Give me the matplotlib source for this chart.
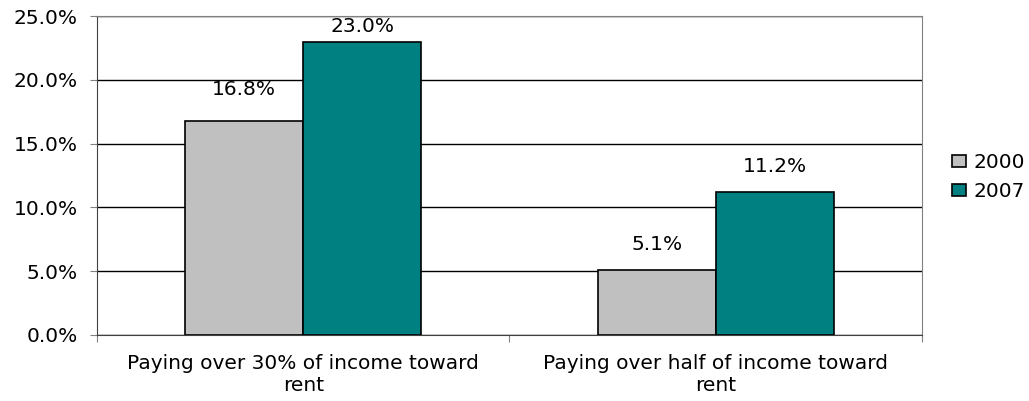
import numpy as np
import matplotlib.pyplot as plt
from matplotlib.ticker import FuncFormatter

categorias = ['Paying over 30% of income toward\nrent', 'Paying over half of income toward\nrent']
anios = ['2000', '2007']
valores_2000 = [16.8, 5.1]
valores_2007 = [23.0, 11.2]
colores = ['#C0C0C0', '#008080']
# separacion (px) entre la barra y su etiqueta, por serie
separacion = [[22, 16], [6, 16]]

plt.rcParams['font.family'] = ['DejaVu Sans']
fs = 14.5

fig = plt.figure(figsize=(10.29, 4.01), dpi=100)
ax = fig.add_axes([97/1029, 1 - 335/401, (922 - 97)/1029, (335 - 16)/401])

x = np.arange(len(categorias)) + 0.5
ancho = 0.286
for i, (serie, vals) in enumerate([(anios[0], valores_2000), (anios[1], valores_2007)]):
    pos = x + (i - 0.5) * ancho
    barras = ax.bar(pos, vals, ancho, color=colores[i], edgecolor='black', linewidth=1.2,
                    label=serie, zorder=3)
    for b, v, d in zip(barras, vals, separacion[i]):
        ax.annotate(f'{v:.1f}%', (b.get_x() + b.get_width()/2, v), xytext=(0, d*0.72),
                    textcoords='offset points', ha='center', va='bottom', fontsize=fs)

ax.set_xlim(0, 2)
ax.set_ylim(0, 25)
ax.set_yticks(np.arange(0, 26, 5))
ax.yaxis.set_major_formatter(FuncFormatter(lambda v, p: f'{v:.1f}%'))
ax.grid(axis='y', color='black', linewidth=1.0, zorder=0)
ax.set_xticks([0, 1, 2])
ax.set_xticklabels([])
ax.set_xticks(x, minor=True)
ax.set_xticklabels(categorias, minor=True, fontsize=fs)
ax.tick_params(axis='x', which='minor', length=0, pad=14)
ax.tick_params(axis='x', which='major', length=5, color='gray')
ax.tick_params(axis='y', length=5, labelsize=fs, color='gray', pad=9)
for lado in ['top', 'right']:
    ax.spines[lado].set_color('gray')
for lado in ['left', 'bottom']:
    ax.spines[lado].set_color('#404040')

fig.legend(loc='center left', bbox_to_anchor=(942/1029, 1 - 177/401), frameon=False,
           fontsize=fs, handlelength=0.7, handleheight=0.55, handletextpad=0.35,
           labelspacing=0.5, borderpad=0)

plt.savefig('out.png', dpi=100)
